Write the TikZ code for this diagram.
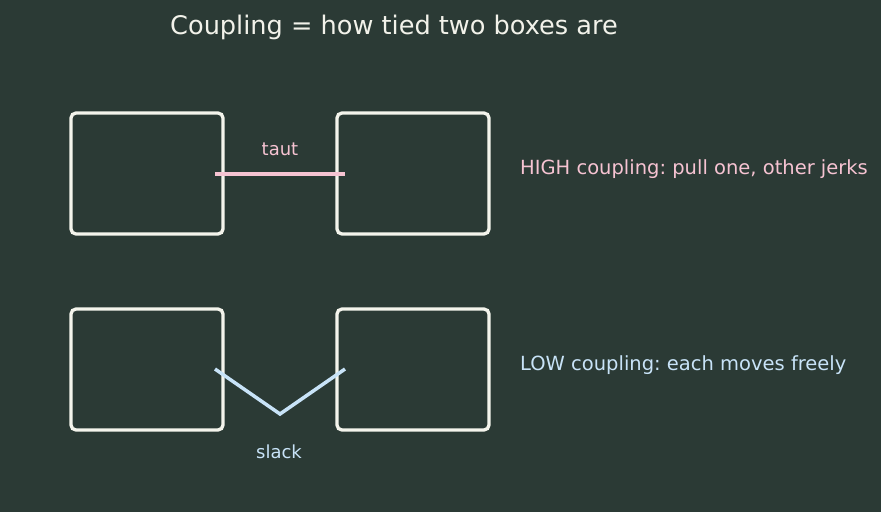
\documentclass[tikz,border=0pt]{standalone}
\usepackage{fontspec}
\setmainfont{DejaVu Sans}
\frenchspacing
\definecolor{bg}{HTML}{2B3A35}
\definecolor{boxc}{HTML}{F4F4EC}
\definecolor{pinkc}{HTML}{F6C3D2}
\definecolor{bluec}{HTML}{C8E3F8}
\definecolor{titlec}{HTML}{F2F2EA}
\tikzset{
  px/.style={x=1pt,y=-1pt},
  boxnode/.style={draw=boxc,line width=3.3pt,rounded corners=5pt,minimum width=152pt,minimum height=121pt,inner sep=0pt},
  tautline/.style={draw=pinkc,line width=3.5pt},
  slackline/.style={draw=bluec,line width=3.5pt},
  lbl/.style={font=\fontsize{19.5}{23}\selectfont,inner sep=0pt},
  small/.style={font=\fontsize{18}{21}\selectfont,inner sep=0pt},
}
\begin{document}
\begin{tikzpicture}[px]
\fill[bg] (0,0) rectangle (881,512);
\useasboundingbox (0,0) rectangle (881,512);
\node[font=\fontsize{25.6}{30}\selectfont,text=titlec,inner sep=0pt] (title) at (394,27) {Coupling = how tied two boxes are};
\node[boxnode] (a1) at (147,173.5) {};
\node[boxnode] (b1) at (413,173.5) {};
\node[boxnode] (a2) at (147,369.5) {};
\node[boxnode] (b2) at (413,369.5) {};
\coordinate (t1) at (215,174);
\coordinate (t2) at (345,174);
\draw[tautline] (t1) -- (t2);
\node[small,text=pinkc] (taut) at (280,149.5) {taut};
\coordinate (s1) at (215,369);
\coordinate (s2) at (280,414);
\coordinate (s3) at (345,369);
\draw[slackline] (s1) -- (s2) -- (s3);
\node[small,text=bluec] (slack) at (279,451.5) {slack};
\node[lbl,text=pinkc,anchor=west] (high) at (520,169) {HIGH coupling: pull one, other jerks};
\node[lbl,text=bluec,anchor=west] (low) at (520,365) {LOW coupling: each moves freely};
\end{tikzpicture}
\end{document}
